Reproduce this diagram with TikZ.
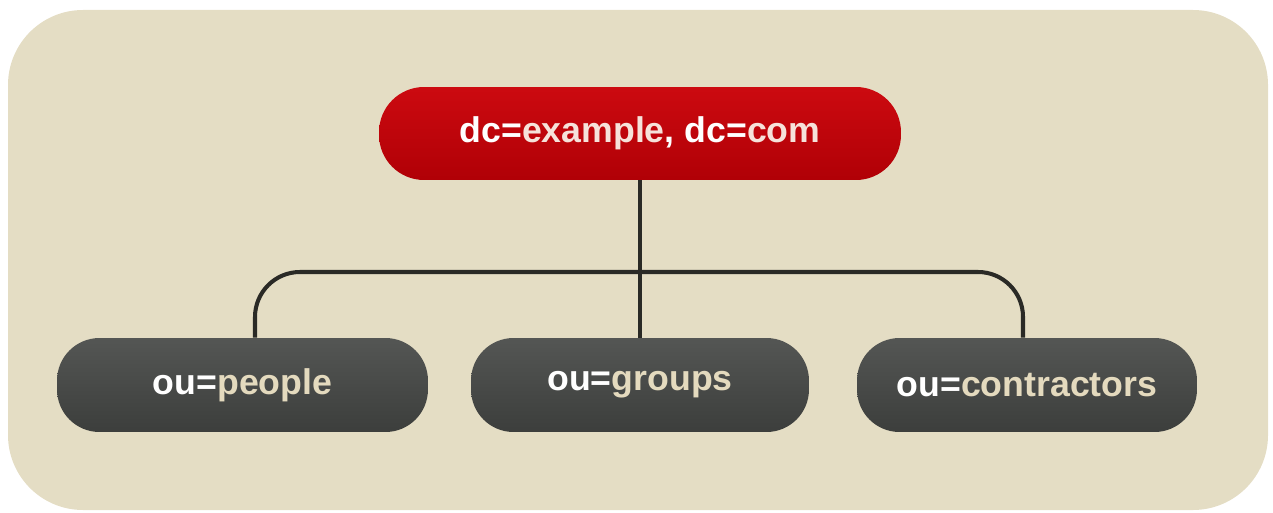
\documentclass[tikz,border=0pt]{standalone}
\usepackage{fontspec}
\setmainfont{Liberation Sans}
\definecolor{bg}{HTML}{E4DDC4}
\definecolor{rootredtop}{HTML}{CC0A10}
\definecolor{rootredbot}{HTML}{B00006}
\definecolor{childtop}{HTML}{545654}
\definecolor{childbot}{HTML}{3C3E3C}
\definecolor{linec}{HTML}{2A2A26}
\definecolor{beigetxt}{HTML}{E4DABE}
\definecolor{pinktxt}{HTML}{F6E2DA}
\tikzset{
  x=0.02cm, y=-0.02cm,
  boxbase/.style={rounded corners=0.9cm, inner sep=0pt, font=\fontsize{20.3}{24}\selectfont\bfseries, text=white},
  rootbox/.style={boxbase, top color=rootredtop, bottom color=rootredbot, minimum width=10.44cm, minimum height=1.86cm},
  childbox/.style={boxbase, rounded corners=0.85cm, top color=childtop, bottom color=childbot, minimum height=1.88cm},
  conn/.style={draw=linec, line width=2.3pt, rounded corners=0.9cm}
}
\begin{document}
\begin{tikzpicture}
\useasboundingbox (0,0) rectangle (1273,513);
\fill[bg, rounded corners=1.5cm] (8,10) rectangle (1268,510);
\node[rootbox] (root) at (640,133.5) {dc=\textcolor{pinktxt}{example}, dc=\textcolor{pinktxt}{com}};
\node[childbox, minimum width=7.42cm] (people) at (242.5,385) {ou=\textcolor{beigetxt}{people}};
\node[childbox, minimum width=6.76cm] (groups) at (640,385) {ou=\textcolor{beigetxt}{groups}};
\node[childbox, minimum width=6.8cm] (contractors) at (1027,385) {ou=\textcolor{beigetxt}{contractors}};
\coordinate (pj) at (255,272);
\coordinate (cj) at (1023,272);
\draw[conn] (people.north -| pj) -- (pj) -- (cj) -- (contractors.north -| cj);
\draw[draw=linec, line width=2.3pt] (root.south) -- (groups.north);
\end{tikzpicture}
\end{document}
